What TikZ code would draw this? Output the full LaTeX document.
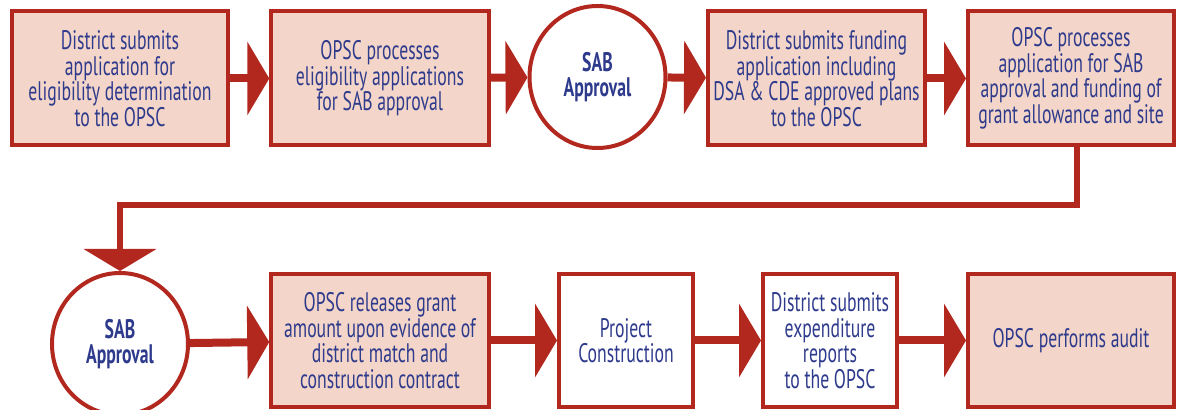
\documentclass[tikz,border=0pt]{standalone}
\usepackage{fontspec}
\setmainfont[FakeStretch=0.66]{PT Sans}
\usetikzlibrary{shapes.geometric,arrows.meta,calc}
\definecolor{sabred}{RGB}{178,40,30}
\definecolor{sabpink}{RGB}{243,214,201}
\definecolor{sabblue}{RGB}{46,58,140}

\begin{document}
\begin{tikzpicture}[x=0.5pt,y=-0.5pt,
  stage/.style={draw=sabred,line width=2pt,fill=sabpink,text=sabblue,align=center,
    inner sep=0pt,minimum height=67pt,font=\fontsize{13.4}{12.75}\selectfont},
  plainstage/.style={stage,fill=white},
  vote/.style={ellipse,draw=sabred,line width=2pt,fill=white,text=sabblue,align=center,
    inner sep=0pt,minimum width=68pt,minimum height=71pt,font=\bfseries\fontsize{13.4}{12.75}\selectfont},
  flow/.style={draw=sabred,line width=4pt,-{Triangle[length=11pt,width=36.5pt]}},
  link/.style={draw=sabred,line width=3pt,-{Triangle[length=11pt,width=36pt]}}]%

\useasboundingbox (0,0) rectangle (1182,410);

% top row
\node [stage,minimum width=108pt] (b1) at (120,78.5) {District submits\\application for\\eligibility determination\\to the OPSC};
\node [stage,minimum width=108.75pt] (b2) at (380,78.5) {OPSC processes\\eligibility applications\\for SAB approval};
\node [vote] (c1) at (597.5,77) {SAB\\Approval};
\node [stage,minimum width=108.5pt] (b3) at (816.5,78.5) {District submits funding\\application including\\DSA \& CDE approved plans\\to the OPSC};
\node [stage,minimum width=103pt] (b4) at (1071,78.5) {OPSC processes\\application for SAB\\approval and funding of\\grant allowance and site};

% bottom row
\node [vote] (c2) at (120,344) {SAB\\Approval};
\node [stage,minimum width=108.75pt,minimum height=66.5pt] (b5) at (380,340.5) {OPSC releases grant\\amount upon evidence of\\district match and\\construction contract};
\node [plainstage,minimum width=67pt,minimum height=66.5pt] (b6) at (626,340.5) {Project\\Construction};
\node [plainstage,minimum width=67pt,minimum height=66.5pt] (b7) at (830,340.5) {District submits\\expenditure\\reports\\to the OPSC};
\node [stage,minimum width=103pt,minimum height=66.5pt] (b8) at (1071,340.5) {OPSC performs audit};

\draw [flow] (b1) -- (b2);
\draw [flow] (b2) -- (c1);
\draw [flow] (c1) -- (b3);
\draw [flow] (b3) -- (b4);

% down to the second row
\coordinate [] (bend) at (120,205);
\draw [link] ([xshift=3pt]b4.south) |- (bend) -- (c2.north);

\draw [flow] (c2) -- (b5);
\draw [flow] (b5) -- (b6);
\draw [flow] (b6) -- (b7);
\draw [flow] (b7) -- (b8);

\end{tikzpicture}
\end{document}
